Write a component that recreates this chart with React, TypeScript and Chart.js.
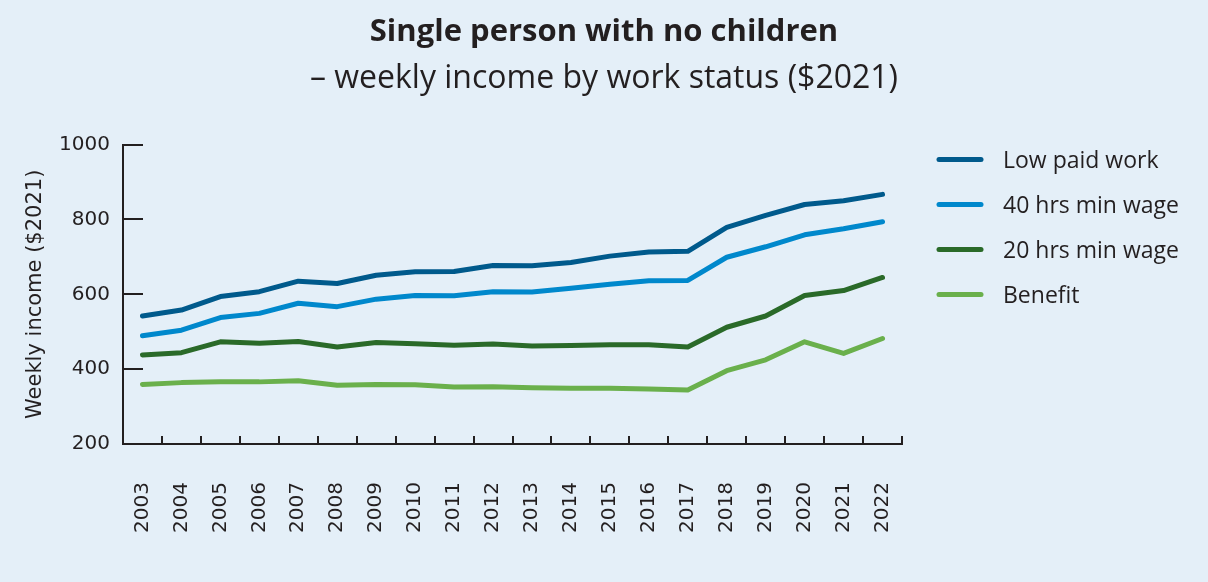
import React, { useEffect, useRef } from "react";
import { Chart, registerables } from "chart.js";

Chart.register(...registerables);

const years = ["2003","2004","2005","2006","2007","2008","2009","2010","2011","2012","2013","2014","2015","2016","2017","2018","2019","2020","2021","2022"];
const lowPaidWork = [542,558,594,607,635,629,651,660,661,677,676,685,702,713,715,779,811,840,850,867];
const fortyHrsMinWage = [489,504,538,549,576,567,587,597,596,607,606,616,627,636,637,699,727,759,775,794];
const twentyHrsMinWage = [438,444,473,469,474,459,471,468,464,467,462,463,465,465,459,512,542,597,610,645];
const benefit = [359,364,366,366,369,357,359,358,352,353,350,349,349,347,344,396,425,473,442,482];
const seriesLabels = ["Low paid work", "40 hrs min wage", "20 hrs min wage", "Benefit"];
const seriesColors = ["#005a8c", "#0088cc", "#2a6a29", "#6ab04c"];
const yTicks = [200, 400, 600, 800, 1000];

const TEXT = "#231f20";
const FONT = "'Open Sans', sans-serif";
const TICK_FONT = "'DejaVu Sans', sans-serif";

const innerTicks = {
  id: "innerTicks",
  afterDraw(chart: any) {
    const { ctx, chartArea } = chart;
    const x = chart.scales.x;
    const y = chart.scales.y;
    ctx.save();
    ctx.strokeStyle = TEXT;
    ctx.lineWidth = 2;
    ctx.beginPath();
    yTicks.forEach((v) => {
      if (v === yTicks[0]) return;
      const py = Math.round(y.getPixelForValue(v));
      ctx.moveTo(chartArea.left, py);
      ctx.lineTo(chartArea.left + 20, py);
    });
    const n = years.length;
    const step = x.getPixelForValue(1) - x.getPixelForValue(0);
    for (let i = 1; i <= n; i++) {
      const px = Math.round(x.getPixelForValue(i - 1) + step / 2);
      ctx.moveTo(px, chartArea.bottom);
      ctx.lineTo(px, chartArea.bottom - 8);
    }
    ctx.stroke();
    ctx.restore();
  },
};

const customLegend = {
  id: "customLegend",
  afterDraw(chart: any) {
    const { ctx, chartArea } = chart;
    ctx.save();
    chart.data.datasets.forEach((ds: any, i: number) => {
      const yy = chartArea.top + 15 + i * 45;
      const x0 = chartArea.right + 37;
      ctx.strokeStyle = ds.borderColor;
      ctx.lineWidth = 5;
      ctx.lineCap = "round";
      ctx.beginPath();
      ctx.moveTo(x0, yy);
      ctx.lineTo(x0 + 42, yy);
      ctx.stroke();
      ctx.fillStyle = TEXT;
      ctx.font = `23px ${FONT}`;
      ctx.textBaseline = "middle";
      ctx.textAlign = "left";
      ctx.fillText(ds.label, x0 + 64, yy + 2);
    });
    ctx.restore();
  },
};

export default function App() {
  const ref = useRef<HTMLCanvasElement>(null);
  useEffect(() => {
    document.body.style.margin = "0";
    const series = [lowPaidWork, fortyHrsMinWage, twentyHrsMinWage, benefit];
    const chart = new Chart(ref.current!, {
      type: "line",
      data: {
        labels: years,
        datasets: series.map((d, i) => ({
          label: seriesLabels[i],
          data: d,
          borderColor: seriesColors[i],
          backgroundColor: seriesColors[i],
          borderWidth: 5,
          borderCapStyle: "round",
          borderJoinStyle: "round",
          pointRadius: 0,
          tension: 0,
          yAxisID: "y",
        })),
      },
      options: {
        animation: false,
        responsive: false,
        maintainAspectRatio: false,
        layout: { padding: { left: 0, right: 0, top: 0, bottom: 0 } },
        plugins: {
          legend: { display: false },
          tooltip: { enabled: false },
          title: {
            display: true,
            text: "Single person with no children",
            color: TEXT,
            font: { family: FONT, size: 31, weight: "bold", lineHeight: 1.2 },
            padding: { top: 14, bottom: 0 },
          },
          subtitle: {
            display: true,
            text: "– weekly income by work status ($2021)",
            color: TEXT,
            font: { family: FONT, size: 32, weight: "normal", lineHeight: 1.2 },
            padding: { top: 8, bottom: 47 },
          },
        },
        scales: {
          x: {
            offset: true,
            grid: { display: false, offset: true },
            border: { display: true, color: TEXT, width: 2 },
            ticks: {
              autoSkip: false,
              minRotation: 90,
              maxRotation: 90,
              padding: 30,
              color: TEXT,
              font: { family: TICK_FONT, size: 20 },
            },
            afterFit: (s: any) => { s.height = 138; },
          },
          y: {
            min: 200,
            max: 1000,
            grid: { display: false },
            border: { display: true, color: TEXT, width: 2 },
            afterBuildTicks: (s: any) => { s.ticks = yTicks.map((v) => ({ value: v })); },
            ticks: {
              padding: 5,
              color: TEXT,
              font: { family: TICK_FONT, size: 20 },
              callback: (v: any) => String(v),
            },
            title: {
              display: true,
              text: "Weekly income ($2021)",
              color: TEXT,
              font: { family: TICK_FONT, size: 21 },
              padding: { top: 23, bottom: 0 },
            },
            afterFit: (s: any) => { s.width = 123; },
          },
          legendSpace: {
            type: "linear",
            position: "right",
            min: 0,
            max: 1,
            display: true,
            grid: { display: false },
            border: { display: false },
            ticks: { display: false },
            afterFit: (s: any) => { s.width = 306; },
          },
        },
      },
      plugins: [innerTicks, customLegend],
    });
    return () => chart.destroy();
  }, []);
  return (
    <div style={{ position: "absolute", left: 0, top: 0, width: 1208, height: 582, background: "#e4eff8" }}>
      <canvas ref={ref} width={1208} height={582} style={{ display: "block", width: 1208, height: 582 }} />
    </div>
  );
}
